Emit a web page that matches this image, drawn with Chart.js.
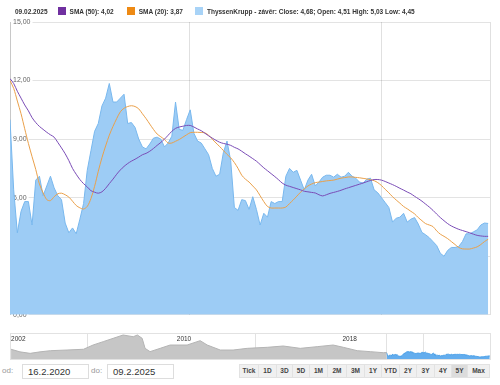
<!DOCTYPE html>
<html lang="cs">
<head>
<meta charset="UTF-8">
<title>ThyssenKrupp</title>
<script src="https://cdn.jsdelivr.net/npm/chart.js"></script>
<style>
    body {
        margin: 0;
        width: 500px;
        height: 385px;
        background: #fff;
        font-family: 'Liberation Sans', Arial, sans-serif;
        position: relative;
        overflow: hidden;
    }
    #legend {
        position: absolute;
        top: 7px;
        left: 15px;
        display: flex;
        align-items: center;
        font-size: 6.5px;
        font-weight: bold;
        color: #333;
        white-space: nowrap;
    }
    #legend .sq {
        width: 8px;
        height: 8px;
        margin: 0 4px 0 10px;
    }
    #mainChart { position: absolute; left: 0; top: 0; }
    #navBox {
        position: absolute;
        left: 10px; top: 333px;
        width: 479px; height: 25px;
        border: 1px solid #e2e2e2;
    }
    #navChart { position: absolute; left: 0; top: 330px; }
    .lbl { position: absolute; top: 366px; font-size: 8px; color: #999; }
    .inp {
        position: absolute;
        top: 364px;
        width: 60px; height: 13px;
        border: 1px solid #ddd;
        font-size: 9.5px;
        color: #333;
        padding-left: 5px;
        line-height: 13px;
    }
    #range {
        position: absolute;
        left: 239px; top: 364px;
        display: flex;
        height: 14px;
    }
    #range div {
        background: #f0f0f0;
        border: 1px solid #e2e2e2;
        border-left: none;
        font-size: 6.5px;
        font-weight: bold;
        color: #444;
        text-align: center;
        line-height: 12px;
        box-sizing: border-box;
    }
    #range div:first-child { border-left: 1px solid #e2e2e2; }
    #range div.on { background: #dcdcdc; }
</style>
</head>
<body>
<canvas id="mainChart" width="500" height="322"></canvas>
<div id="legend"></div>
<div id="navBox"></div>
<canvas id="navChart" width="500" height="32"></canvas>
<span class="lbl" style="left:2px">od:</span>
<div class="inp" style="left:22px">16.2.2020</div>
<span class="lbl" style="left:91px">do:</span>
<div class="inp" style="left:107px">09.2.2025</div>
<div id="range"></div>
<script>
// close every 14 days from 16.2.2020
const startDate = '2020-02-16';
const stepDays = 14;
const closes = [
    10.0, 6.4, 4.2, 5.3, 5.8, 5.8, 4.6, 6.9, 7.1, 6.1,
    6.6, 7.1, 6.5, 6.1, 5.9, 4.7, 4.2, 4.45, 4.15, 4.9,
    5.7, 7.4, 8.4, 9.4, 9.8, 10.7, 11.1, 11.85, 10.9, 10.9,
    11.1, 11.3, 9.8, 9.85, 9.6, 9.0, 8.6, 8.5, 8.75, 9.05,
    9.1, 9.0, 8.6, 8.8, 9.15, 10.9, 9.5, 9.45, 10.0, 10.5,
    9.3, 8.9, 8.8, 8.5, 8.2, 7.5, 7.1, 7.2, 8.3, 8.9,
    7.9, 5.5, 5.35, 5.9, 5.85, 5.4, 6.05, 5.4, 4.6, 5.2,
    5.0, 5.8, 5.7, 5.8, 5.8, 7.1, 7.5, 7.3, 7.4, 6.9,
    6.4, 6.9, 7.2, 6.6, 6.8, 7.05, 7.15, 7.15, 7.05, 7.2,
    7.05, 7.1, 7.3, 7.1, 7.0, 6.8, 6.75, 6.95, 7.0, 6.4,
    6.25, 6.0, 5.75, 5.5, 4.75, 4.95, 5.0, 5.2, 4.75, 4.9,
    4.98, 4.65, 4.22, 4.1, 3.95, 3.75, 3.55, 3.15, 3.0, 3.3,
    3.45, 3.45, 3.5, 3.75, 4.15, 4.15, 4.25, 4.35, 4.6, 4.7, 4.68
];
const sma50 = [
    12.1, 11.85, 11.45, 11.1, 10.75, 10.45, 10.1, 9.85, 9.65, 9.5,
    9.35, 9.22, 9.1, 8.83, 8.55, 8.25, 7.9, 7.5, 7.2, 6.93,
    6.72, 6.55, 6.36, 6.28, 6.23, 6.3, 6.48, 6.72, 6.95, 7.2,
    7.42, 7.6, 7.75, 7.87, 7.97, 8.08, 8.2, 8.27, 8.38, 8.52,
    8.68, 8.83, 9.0, 9.2, 9.4, 9.55, 9.62, 9.66, 9.7, 9.7,
    9.62, 9.52, 9.43, 9.3, 9.17, 9.05, 8.94, 8.84, 8.78, 8.74,
    8.68, 8.58, 8.5, 8.38, 8.25, 8.13, 8.0, 7.87, 7.7, 7.53,
    7.38, 7.23, 7.08, 6.92, 6.75, 6.64, 6.58, 6.52, 6.46, 6.4,
    6.33, 6.3, 6.27, 6.24, 6.15, 6.09, 6.15, 6.22, 6.27, 6.32,
    6.38, 6.45, 6.51, 6.57, 6.63, 6.69, 6.75, 6.82, 6.88, 6.93,
    6.93, 6.9, 6.83, 6.75, 6.67, 6.58, 6.48, 6.39, 6.29, 6.2,
    6.07, 5.95, 5.82, 5.67, 5.52, 5.35, 5.16, 4.98, 4.82, 4.67,
    4.55, 4.46, 4.38, 4.32, 4.26, 4.2, 4.13, 4.07, 4.04, 4.02, 4.02
];
const sma20 = [
    12.0, 11.6, 10.95, 10.3, 9.53, 8.78, 8.1, 7.45, 6.7, 6.25,
    5.9, 5.85, 6.05, 6.2, 6.23, 6.15, 6.03, 5.82, 5.6, 5.48,
    5.42, 5.55, 5.95, 6.58, 7.35, 8.05, 8.65, 9.2, 9.65, 10.05,
    10.4, 10.58, 10.67, 10.71, 10.67, 10.55, 10.3, 10.05, 9.77, 9.5,
    9.26, 9.12, 8.98, 8.8, 8.8, 8.89, 8.98, 9.1, 9.22, 9.33,
    9.35, 9.35, 9.34, 9.32, 9.2, 9.0, 8.8, 8.62, 8.42, 8.22,
    8.04, 7.8, 7.5, 7.15, 6.95, 6.8, 6.6, 6.4, 6.1, 5.8,
    5.55, 5.47, 5.47, 5.47, 5.47, 5.52, 5.7, 5.88, 6.08, 6.28,
    6.45, 6.6, 6.7, 6.77, 6.8, 6.83, 6.86, 6.88, 6.9, 6.95,
    7.0, 7.03, 7.06, 7.06, 7.04, 7.02, 6.99, 6.96, 6.92, 6.87,
    6.77, 6.62, 6.43, 6.25, 6.05, 5.88, 5.72, 5.55, 5.43, 5.3,
    5.17, 4.98, 4.82, 4.67, 4.6, 4.52, 4.3, 4.13, 4.02, 3.9,
    3.75, 3.6, 3.45, 3.38, 3.37, 3.37, 3.42, 3.48, 3.6, 3.75, 3.87
];
const lastBar = { date: '09.02.2025', open: 4.51, high: 5.03, low: 4.45 };
const yTicks = [0, 3, 6, 9, 12, 15];
const gridYears = [2022, 2024];

// navigator: longer history before the shown range
const navYears = [2002.0, 2002.43, 2002.92, 2003.4, 2003.9, 2004.7, 2005.5, 2005.96, 2006.45, 2006.93,
    2007.41, 2007.9, 2008.1, 2008.33, 2008.47, 2008.71, 2009.2, 2009.68, 2010.5, 2011.13,
    2011.47, 2012.1, 2012.72, 2013.4, 2014.37, 2015.14, 2015.96, 2016.78, 2017.55, 2018.04,
    2018.71, 2019.34, 2019.97, 2020.13];
const navValues = [15, 11, 8.7, 11, 12.8, 13.8, 15, 21.5, 26.7, 31.8,
    36.9, 34.3, 36.9, 31.8, 16.4, 11.3, 16.4, 21.5, 21.5, 28.2,
    21.5, 13.8, 13.8, 16.4, 18, 20, 16.4, 19, 21.5, 18,
    12.8, 11.3, 9.7, 10];
const navLabels = [2002, 2010, 2018];
const navGrid = [2005.7, 2013.8, 2021.9];
const rangeButtons = ['Tick', '1D', '3D', '5D', '1M', '2M', '3M', '1Y', 'YTD', '2Y', '3Y', '4Y', '5Y', 'Max'];
const buttonWidths = [20, 18, 16, 17, 18, 19, 18, 17, 18, 17, 18, 17, 16, 22];

const DAY = 86400000;
const t0 = Date.parse(startDate);
const dayOf = s => (Date.parse(s) - t0) / DAY;
const fmt = v => v.toFixed(2).replace('.', ',');
const lastDay = dayOf('2025-02-09');

const purple = '#7030a0', orange = '#ee8a14', blue = '#a8d3f7';

// legend
const leg = document.getElementById('legend');
leg.innerHTML =
    '<span>' + lastBar.date + '</span>' +
    '<span class="sq" style="background:' + purple + '"></span><span>SMA (50): ' + fmt(sma50[sma50.length - 1]) + '</span>' +
    '<span class="sq" style="background:' + orange + ';margin-left:13px"></span><span>SMA (20): ' + fmt(sma20[sma20.length - 1]) + '</span>' +
    '<span class="sq" style="background:' + blue + ';margin-left:12px"></span><span>ThyssenKrupp - závěr: Close: ' + fmt(closes[closes.length - 1]) +
    '; Open: ' + fmt(lastBar.open) + ' High: ' + fmt(lastBar.high) + ' Low: ' + fmt(lastBar.low) + '</span>';

const toPts = arr => arr.map((v, i) => ({ x: i * stepDays, y: v }));

new Chart(document.getElementById('mainChart'), {
    type: 'line',
    data: {
        datasets: [
            { data: toPts(sma50), borderColor: '#7a4cb6', borderWidth: 1, fill: false, tension: 0.3 },
            { data: toPts(sma20), borderColor: '#eaa04a', borderWidth: 1, fill: false, tension: 0.3 },
            { data: toPts(closes), borderColor: '#79b8ee', backgroundColor: '#9dccf5', borderWidth: 1, fill: 'origin', tension: 0 }
        ]
    },
    options: {
        responsive: false,
        animation: false,
        layout: { padding: { left: 10, right: 10, top: 22, bottom: 6 } },
        elements: { point: { radius: 0 } },
        plugins: { legend: { display: false }, tooltip: { enabled: false } },
        scales: {
            x: {
                type: 'linear', min: 0, max: lastDay + 7, z: 1,
                ticks: { display: false },
                grid: { color: 'rgba(0,0,0,0.12)', drawTicks: false },
                border: { display: false },
                afterBuildTicks: s => {
                    s.ticks = gridYears.map(y => ({ value: dayOf(y + '-01-01') })).concat([{ value: lastDay + 7 }]);
                },
                afterFit: s => { s.height = 0; }
            },
            y: {
                min: 0, max: 15, z: 1,
                ticks: {
                    mirror: true, padding: 3,
                    color: '#666', font: { size: 7, family: 'Liberation Sans' },
                    showLabelBackdrop: true, backdropColor: '#fff', backdropPadding: { x: 2, y: 1 },
                    callback: v => fmt(v)
                },
                afterBuildTicks: s => { s.ticks = yTicks.map(v => ({ value: v })); },
                grid: { color: 'rgba(0,0,0,0.11)', drawTicks: false },
                border: { color: '#c8c8c8' },
                afterFit: s => { s.width = 0; }
            }
        }
    }
});

// navigator
const startYear = 2020 + (31 + 15) / 366;
new Chart(document.getElementById('navChart'), {
    type: 'line',
    data: {
        datasets: [
            { data: navYears.map((x, i) => ({ x, y: navValues[i] })), borderColor: '#b4b4b4', backgroundColor: '#c6c6c6', borderWidth: 1, fill: 'origin' },
            { data: closes.map((v, i) => ({ x: startYear + i * stepDays / 365.25, y: v })), borderColor: '#4a9fe6', backgroundColor: '#63adee', borderWidth: 1, fill: 'origin' }
        ]
    },
    options: {
        responsive: false,
        animation: false,
        layout: { padding: { left: 10, right: 10, top: 3, bottom: 3 } },
        elements: { point: { radius: 0 } },
        plugins: { legend: { display: false }, tooltip: { enabled: false } },
        scales: {
            x: {
                type: 'linear', position: 'top', min: 2001.95, max: 2025.12, z: 1,
                ticks: { mirror: true, align: 'start', padding: 2, color: '#333', font: { size: 6.5, family: 'Liberation Sans' }, callback: v => String(v) },
                afterBuildTicks: s => { s.ticks = navLabels.map(v => ({ value: v })); },
                grid: { display: false },
                border: { display: false },
                afterFit: s => { s.height = 0; }
            },
            xg: {
                type: 'linear', position: 'bottom', axis: 'x', min: 2001.95, max: 2025.12,
                ticks: { display: false },
                afterBuildTicks: s => { s.ticks = navGrid.concat([startYear]).map(v => ({ value: v })); },
                grid: { color: '#e2e2e2', drawTicks: false },
                border: { display: false },
                afterFit: s => { s.height = 0; }
            },
            y: { min: 0, max: 40, display: false }
        }
    }
});

// range buttons
const rg = document.getElementById('range');
rangeButtons.forEach((b, i) => {
    const d = document.createElement('div');
    d.textContent = b;
    d.style.width = buttonWidths[i] + 'px';
    if (b === '5Y') d.className = 'on';
    rg.appendChild(d);
});
</script>
</body>
</html>
